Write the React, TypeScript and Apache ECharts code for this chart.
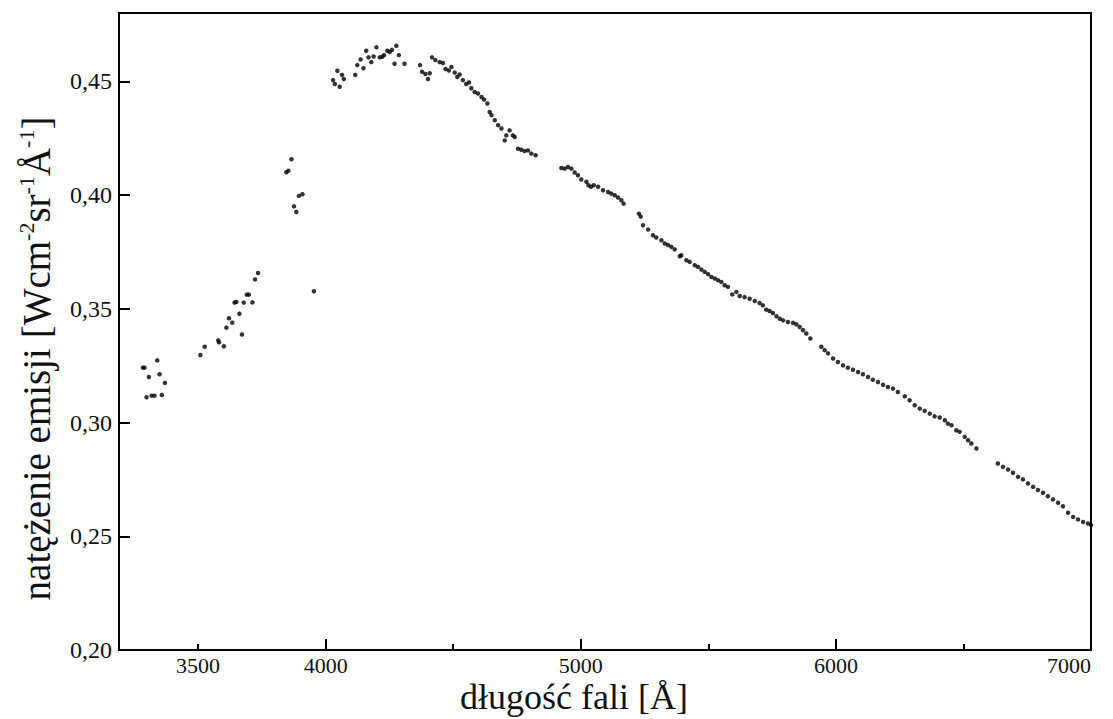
import React, { useEffect, useRef } from "react";
import * as echarts from "echarts";

const wavelength: number[] = [
  3284, 3290, 3298, 3307, 3318, 3329, 3340, 3349, 3358, 3370,
  3509, 3526, 3579, 3582, 3601, 3611, 3621, 3634, 3643, 3650, 3662, 3672, 3679, 3691, 3699, 3713, 3723, 3735,
  3846, 3854, 3866, 3876, 3885, 3895, 3909, 3954,
  4029, 4036, 4046, 4055, 4064, 4071, 4116, 4124, 4137, 4148, 4159, 4168, 4179, 4188, 4199, 4212, 4222, 4229,
  4242, 4251, 4260, 4270, 4277, 4287, 4309, 4370, 4378, 4391, 4401, 4408, 4417, 4430, 4447, 4460, 4470, 4483,
  4493, 4506, 4516, 4525, 4538, 4551, 4562, 4571, 4584, 4597, 4611, 4621, 4634, 4643, 4650, 4663, 4676, 4689,
  4702, 4708, 4721, 4734, 4741, 4754, 4767, 4780, 4793, 4806, 4823,
  4924, 4937, 4950, 4963, 4976, 4989, 5002, 5022, 5030, 5040, 5051, 5068, 5087, 5107, 5120, 5133, 5146, 5159, 5168,
  5228, 5235, 5244, 5264, 5283, 5296, 5316, 5329, 5342, 5355, 5368, 5388, 5394, 5414, 5427, 5447, 5460, 5473,
  5486, 5499, 5512, 5525, 5538, 5551, 5564, 5577, 5594, 5610, 5623, 5642, 5662, 5682, 5701, 5714, 5727, 5740,
  5753, 5767, 5780, 5793, 5812, 5832, 5845, 5858, 5871, 5884, 5900,
  5943, 5956, 5969, 5989, 6008, 6028, 6047, 6067, 6087, 6106, 6126, 6145, 6165, 6185, 6204, 6224, 6243, 6270,
  6289, 6309, 6329, 6348, 6368, 6387, 6407, 6427, 6439, 6453, 6472, 6485, 6505, 6518, 6531, 6551,
  6635, 6655, 6675, 6694, 6714, 6733, 6753, 6773, 6792, 6812, 6831, 6851, 6871, 6890, 6910, 6930, 6949, 6969, 6988, 7000,
];

const intensity: number[] = [
  0.3241, 0.3241, 0.3111, 0.32, 0.3118, 0.3118, 0.3273, 0.3212, 0.3121, 0.3174,
  0.3297, 0.3333, 0.3361, 0.3352, 0.3335, 0.3417, 0.3458, 0.3439, 0.3527, 0.353, 0.3478, 0.3387, 0.3527, 0.3562, 0.3562, 0.3528, 0.3629, 0.3657,
  0.41, 0.4107, 0.4157, 0.395, 0.3925, 0.3996, 0.4003, 0.3577,
  0.4505, 0.4488, 0.4546, 0.4476, 0.4528, 0.451, 0.4528, 0.4571, 0.4596, 0.4557, 0.4634, 0.4605, 0.4584, 0.4609, 0.4649, 0.4605, 0.4608, 0.4615,
  0.4634, 0.4628, 0.4638, 0.4577, 0.4656, 0.4615, 0.4577, 0.4571, 0.4542, 0.4532, 0.451, 0.4535, 0.4605, 0.4593, 0.4584, 0.458, 0.4554, 0.4547,
  0.4563, 0.4538, 0.4519, 0.453, 0.4505, 0.4488, 0.4495, 0.4469, 0.4453, 0.4446, 0.4431, 0.442, 0.4402, 0.4365, 0.4351, 0.4329, 0.4307, 0.4292,
  0.424, 0.4262, 0.4284, 0.4262, 0.4255, 0.4203, 0.4199, 0.4193, 0.4196, 0.4182, 0.4175,
  0.4119, 0.4116, 0.4123, 0.4116, 0.4099, 0.4087, 0.4068, 0.4058, 0.4043, 0.4036, 0.4043, 0.4036, 0.4021, 0.4013, 0.4006, 0.3999, 0.3989, 0.3977, 0.3962,
  0.3918, 0.3905, 0.3867, 0.3848, 0.3823, 0.3813, 0.3801, 0.3787, 0.378, 0.3772, 0.3761, 0.3731, 0.3735, 0.3713, 0.3706, 0.3691, 0.3684, 0.3672,
  0.3662, 0.3652, 0.364, 0.3633, 0.3625, 0.3618, 0.3603, 0.3596, 0.3563, 0.3574, 0.3556, 0.3551, 0.3544, 0.3534, 0.3525, 0.3515, 0.3496, 0.349,
  0.3481, 0.3467, 0.3456, 0.3449, 0.3442, 0.3438, 0.3432, 0.342, 0.3406, 0.3391, 0.3369,
  0.3333, 0.3318, 0.3304, 0.3281, 0.3266, 0.3251, 0.3241, 0.3232, 0.3222, 0.3212, 0.32, 0.3188, 0.3178, 0.3166, 0.3156, 0.3149, 0.3134, 0.3115,
  0.3098, 0.3076, 0.3061, 0.3051, 0.3039, 0.3027, 0.3022, 0.301, 0.2995, 0.2988, 0.2966, 0.2959, 0.2937, 0.2922, 0.2908, 0.2886,
  0.282, 0.2805, 0.2793, 0.2779, 0.2761, 0.275, 0.2732, 0.2717, 0.2703, 0.2691, 0.2676, 0.2662, 0.2647, 0.2632, 0.2603, 0.2585, 0.2574, 0.2563, 0.2556, 0.2549,
];

const xLabelTicks: number[] = [3500, 4000, 5000, 6000, 7000];
const xMajorTicks: number[] = [4000, 5000, 6000, 7000];
const xMinorTicks: number[] = [3500, 4500, 5500, 6500];
const yTicks: number[] = [0.2, 0.25, 0.3, 0.35, 0.4, 0.45];

const xName = "długość fali [Å]";
const yNameRich =
  "{n|natężenie emisji [Wcm}{s|-2}{n|sr}{s|-1}{n|Å}{s|-1}{n|]}";

const SERIF = "'Liberation Serif', 'DejaVu Serif', serif";

export default function App() {
  const ref = useRef<HTMLDivElement>(null);

  useEffect(() => {
    document.body.style.margin = "0";
    const chart = echarts.init(ref.current!, null, { renderer: "svg" });
    const data = wavelength.map((w, i) => [w, intensity[i]]);
    const xMin = 3190;
    const xMax = 7000;
    chart.setOption({
      animation: false,
      backgroundColor: "#ffffff",
      grid: {
        left: 119,
        right: 22,
        top: 13,
        bottom: 69,
        outerBoundsMode: "none",
        containLabel: false,
        show: true,
        borderColor: "#000",
        borderWidth: 2,
        backgroundColor: "transparent",
      },
      xAxis: [
        {
          type: "value",
          min: xMin,
          max: xMax,
          position: "bottom",
          axisLine: { show: true, lineStyle: { color: "#000", width: 2 } },
          axisTick: {
            show: true,
            inside: true,
            length: 11,
            lineStyle: { color: "#000", width: 2 },
            customValues: xMajorTicks,
          },
          axisLabel: {
            show: true,
            customValues: xLabelTicks,
            color: "#111",
            fontFamily: SERIF,
            fontSize: 22,
            lineHeight: 20,
            margin: 5,
            alignMaxLabel: "right",
            formatter: (v: number) => String(v),
          },
          splitLine: { show: false },
          name: xName,
          nameLocation: "middle",
          nameGap: 32,
          nameMoveOverlap: false,
          nameTextStyle: {
            color: "#111",
            fontFamily: SERIF,
            fontSize: 36,
            lineHeight: 30,
            verticalAlign: "top",
            padding: [0, 62, 0, 0],
          },
        },
        {
          type: "value",
          min: xMin,
          max: xMax,
          position: "bottom",
          axisLine: { show: false },
          axisTick: {
            show: true,
            inside: true,
            length: 6,
            lineStyle: { color: "#000", width: 2 },
            customValues: xMinorTicks,
          },
          axisLabel: { show: false },
          splitLine: { show: false },
        },
      ],
      yAxis: {
        type: "value",
        min: 0.2,
        max: 0.48,
        axisLine: { show: true, lineStyle: { color: "#000", width: 2 } },
        axisTick: {
          show: true,
          inside: true,
          length: 11,
          lineStyle: { color: "#000", width: 2 },
          customValues: yTicks,
        },
        axisLabel: {
          show: true,
          customValues: yTicks,
          color: "#111",
          fontFamily: SERIF,
          fontSize: 24,
          margin: 7,
          formatter: (v: number) => v.toFixed(2).replace(".", ","),
        },
        splitLine: { show: false },
        name: yNameRich,
        nameLocation: "middle",
        nameGap: 62,
        nameRotate: 90,
        nameTextStyle: {
          color: "#111",
          fontFamily: SERIF,
          padding: [0, 54, 0, 0],
          rich: {
            n: { fontFamily: SERIF, fontSize: 39, color: "#111", lineHeight: 42 },
            s: {
              fontFamily: SERIF,
              fontSize: 22,
              color: "#111",
              lineHeight: 42,
              verticalAlign: "top",
            },
          },
        },
      },
      series: [
        {
          type: "scatter",
          xAxisIndex: 0,
          data,
          symbol: "circle",
          symbolSize: 4.5,
          itemStyle: { color: "#000" },
          silent: true,
        },
      ],
    });
    return () => chart.dispose();
  }, []);

  return <div ref={ref} style={{ width: 1113, height: 719 }} />;
}
